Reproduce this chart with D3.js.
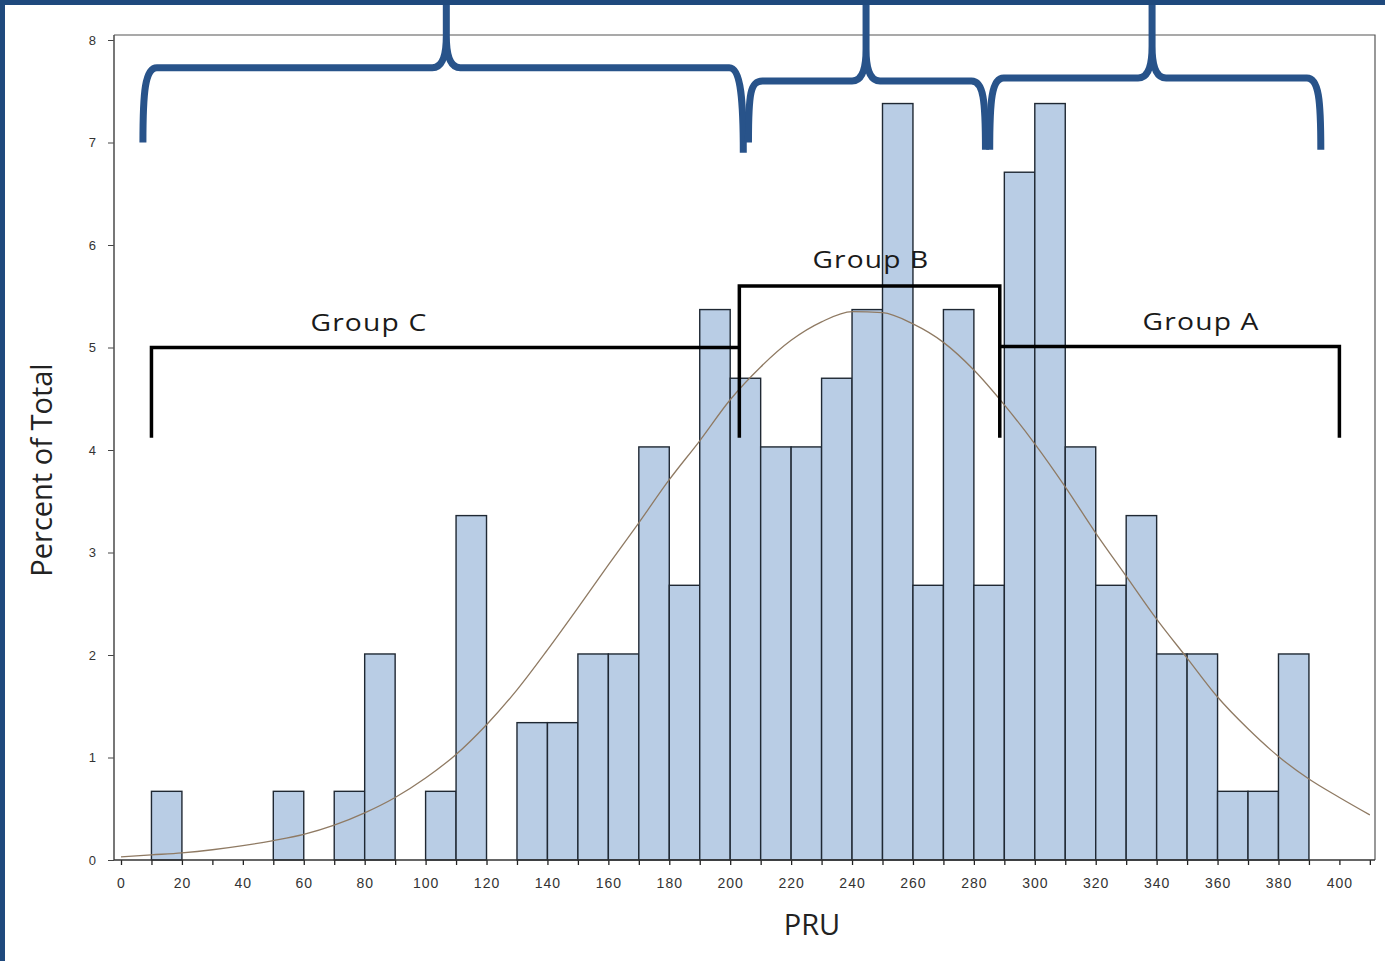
<!DOCTYPE html>
<html>
<head>
<meta charset="utf-8">
<script src="https://cdn.jsdelivr.net/npm/d3@7"></script>
<style>
body { margin: 0; background: #fff; }
svg { display: block; }
</style>
</head>
<body>
<div id="chart"></div>
<script>
var width = 1385
var height = 961

// histogram bins (PRU, width 10) and percent of total
var binStart = [0, 10, 20, 30, 40, 50, 60, 70, 80, 90, 100, 110, 120, 130, 140, 150, 160, 170, 180, 190,
                200, 210, 220, 230, 240, 250, 260, 270, 280, 290, 300, 310, 320, 330, 340, 350, 360, 370, 380, 390]
var percent = [0, 0.67, 0, 0, 0, 0.67, 0, 0.67, 2.01, 0, 0.67, 3.36, 0, 1.34, 1.34, 2.01, 2.01, 4.03, 2.68, 5.37,
               4.70, 4.03, 4.03, 4.70, 5.37, 7.38, 2.68, 5.37, 2.68, 6.71, 7.38, 4.03, 2.68, 3.36, 2.01, 2.01, 0.67, 0.67, 2.01, 0]

// fitted curve
var curveX = [0, 10, 20, 30, 40, 50, 60, 70, 80, 90, 100, 110, 120, 130, 140, 150, 160, 170, 180, 190, 200,
              210, 220, 230, 240, 250, 260, 270, 280, 290, 300, 310, 320, 330, 340, 350, 360, 370, 380, 390, 400, 410]
var curveY = [0.03, 0.05, 0.07, 0.10, 0.14, 0.19, 0.25, 0.34, 0.46, 0.61, 0.80, 1.03, 1.32, 1.66, 2.05, 2.46, 2.88, 3.29, 3.71, 4.09, 4.49,
              4.81, 5.07, 5.25, 5.35, 5.34, 5.23, 5.05, 4.78, 4.44, 4.06, 3.64, 3.19, 2.77, 2.35, 1.97, 1.59, 1.28, 1.01, 0.79, 0.61, 0.44]

var yTicks = [0, 1, 2, 3, 4, 5, 6, 7, 8]
var xTicks = [0, 10, 20, 30, 40, 50, 60, 70, 80, 90, 100, 110, 120, 130, 140, 150, 160, 170, 180, 190, 200,
              210, 220, 230, 240, 250, 260, 270, 280, 290, 300, 310, 320, 330, 340, 350, 360, 370, 380, 390, 400, 410]
var xLabels = [0, 20, 40, 60, 80, 100, 120, 140, 160, 180, 200, 220, 240, 260, 280, 300, 320, 340, 360, 380, 400]

// black group brackets
var groupNames = ["Group C", "Group B", "Group A"]
var groupFrom = [10, 203, 288.5]
var groupTo = [203, 288.5, 400]
var groupLevel = [5.0, 5.6, 5.01]
var groupFoot = 4.12
var groupLegs = [[true, false], [true, true], [false, true]]
var groupLabelX = [81.4, 246.2, 354.6]
var groupLabelY = [5.16, 5.78, 5.17]

// blue braces on top
var braceFrom = [7.2, 206.0, 285.2]
var braceTo = [204.3, 283.8, 393.9]
var braceTip = [106.8, 244.6, 338.5]
var braceLevel = [7.73, 7.6, 7.63]
var braceEndL = [7.0, 7.0, 6.93]
var braceEndR = [6.9, 6.93, 6.93]
var braceTop = 8.4

var frameL = 114, frameR = 1375, frameT = 35

var x = d3.scaleLinear().domain([0, 400]).range([121, 1339.4])
var y = d3.scaleLinear().domain([0, 8]).range([860, 40])

var svg = d3.select("#chart")
    .append("svg")
    .attr("width", width)
    .attr("height", height)

svg.append("rect")
    .attr("width", width)
    .attr("height", height)
    .attr("fill", "#fff")

// frame
svg.append("path")
    .attr("d", "M" + frameL + "," + frameT + "H" + frameR + "V" + y(0))
    .attr("fill", "none")
    .attr("stroke", "#555")
    .attr("stroke-width", 1.2)

// bars
svg.selectAll(".bar")
    .data(binStart.map((b, i) => ({ b: b, p: percent[i] })).filter(d => d.p > 0))
    .enter()
    .append("rect")
    .attr("class", "bar")
    .attr("x", d => x(d.b))
    .attr("y", d => y(d.p))
    .attr("width", d => x(d.b + 10) - x(d.b))
    .attr("height", d => y(0) - y(d.p))
    .attr("fill", "#b9cde5")
    .attr("stroke", "#1f2833")
    .attr("stroke-width", 1.4)

// fitted curve
var line = d3.line()
    .x(d => x(d[0]))
    .y(d => y(d[1]))
    .curve(d3.curveMonotoneX)

svg.append("path")
    .datum(curveX.map((v, i) => [v, curveY[i]]))
    .attr("d", line)
    .attr("fill", "none")
    .attr("stroke", "#8f7a63")
    .attr("stroke-width", 1.3)

// axes
var yAxis = d3.axisLeft(y)
    .tickValues(yTicks)
    .tickSize(6)
    .tickPadding(12)

var gy = svg.append("g")
    .attr("transform", "translate(" + frameL + ",0)")
    .call(yAxis)
gy.select(".domain").remove()
gy.selectAll("line").attr("stroke", "#444")
gy.selectAll("text")
    .attr("fill", "#333")
    .style("font-family", "'Liberation Sans', Arial, sans-serif")
    .style("font-size", "13px")

var xAxis = d3.axisBottom(x)
    .tickValues(xTicks)
    .tickSize(5)
    .tickPadding(13)
    .tickFormat(d => xLabels.includes(d) ? d : "")

var gx = svg.append("g")
    .attr("transform", "translate(0," + y(0) + ")")
    .call(xAxis)
gx.select(".domain").remove()
gx.selectAll("line").attr("stroke", "#222").attr("stroke-width", 1.3)
gx.selectAll("text")
    .attr("fill", "#333")
    .style("font-family", "'Liberation Sans', Arial, sans-serif")
    .style("font-size", "14px")
    .style("letter-spacing", "1px")

svg.append("line")
    .attr("x1", frameL).attr("x2", frameL)
    .attr("y1", frameT).attr("y2", y(0))
    .attr("stroke", "#555")
    .attr("stroke-width", 1.6)
svg.append("line")
    .attr("x1", frameL).attr("x2", frameR)
    .attr("y1", y(0)).attr("y2", y(0))
    .attr("stroke", "#333")
    .attr("stroke-width", 1.6)

// axis titles
svg.append("text")
    .attr("x", 812)
    .attr("y", 935)
    .attr("text-anchor", "middle")
    .attr("fill", "#222")
    .style("font-family", "'Open Sans', sans-serif")
    .style("font-size", "29px")
    .text("PRU")

svg.append("text")
    .attr("transform", "translate(52,470) rotate(-90)")
    .attr("text-anchor", "middle")
    .attr("fill", "#222")
    .style("font-family", "'Open Sans', sans-serif")
    .style("font-size", "29px")
    .text("Percent of Total")

// group brackets
groupNames.forEach(function(name, i) {
    var p = d3.path()
    if (groupLegs[i][0]) {
        p.moveTo(x(groupFrom[i]), y(groupFoot))
        p.lineTo(x(groupFrom[i]), y(groupLevel[i]))
    } else {
        p.moveTo(x(groupFrom[i]), y(groupLevel[i]))
    }
    p.lineTo(x(groupTo[i]), y(groupLevel[i]))
    if (groupLegs[i][1]) p.lineTo(x(groupTo[i]), y(groupFoot))

    svg.append("path")
        .attr("d", p.toString())
        .attr("fill", "none")
        .attr("stroke", "#000")
        .attr("stroke-width", 3.5)

    svg.append("text")
        .attr("x", x(groupLabelX[i]))
        .attr("y", y(groupLabelY[i]))
        .attr("text-anchor", "middle")
        .attr("textLength", 117)
        .attr("lengthAdjust", "spacingAndGlyphs")
        .attr("fill", "#1a1a1a")
        .style("font-family", "'Open Sans', sans-serif")
        .style("font-size", "24px")
        .style("letter-spacing", "1px")
        .text(name)
})

// blue braces
braceFrom.forEach(function(f, i) {
    var x0 = x(f), x1 = x(braceTo[i]), xt = x(braceTip[i])
    var yh = y(braceLevel[i]), yt = y(braceTop)
    var yl = y(braceEndL[i]), yr = y(braceEndR[i])
    var d = "M" + x0 + "," + yl +
        "C" + x0 + "," + (yl - 50) + " " + (x0 + 2) + "," + yh + " " + (x0 + 14) + "," + yh +
        "L" + (xt - 14) + "," + yh +
        "C" + (xt - 4) + "," + yh + " " + xt + "," + (yh - 12) + " " + xt + "," + (yh - 32) +
        "L" + xt + "," + yt +
        "M" + xt + "," + yt +
        "L" + xt + "," + (yh - 32) +
        "C" + xt + "," + (yh - 12) + " " + (xt + 4) + "," + yh + " " + (xt + 14) + "," + yh +
        "L" + (x1 - 14) + "," + yh +
        "C" + (x1 - 2) + "," + yh + " " + x1 + "," + (yr - 50) + " " + x1 + "," + yr
    svg.append("path")
        .attr("d", d)
        .attr("fill", "none")
        .attr("stroke", "#28538a")
        .attr("stroke-width", 7)
})

// slide border
svg.append("rect")
    .attr("x", 0).attr("y", 0)
    .attr("width", width).attr("height", 5)
    .attr("fill", "#1f497d")
svg.append("rect")
    .attr("x", 0).attr("y", 0)
    .attr("width", 5).attr("height", height)
    .attr("fill", "#1f497d")
</script>
</body>
</html>
